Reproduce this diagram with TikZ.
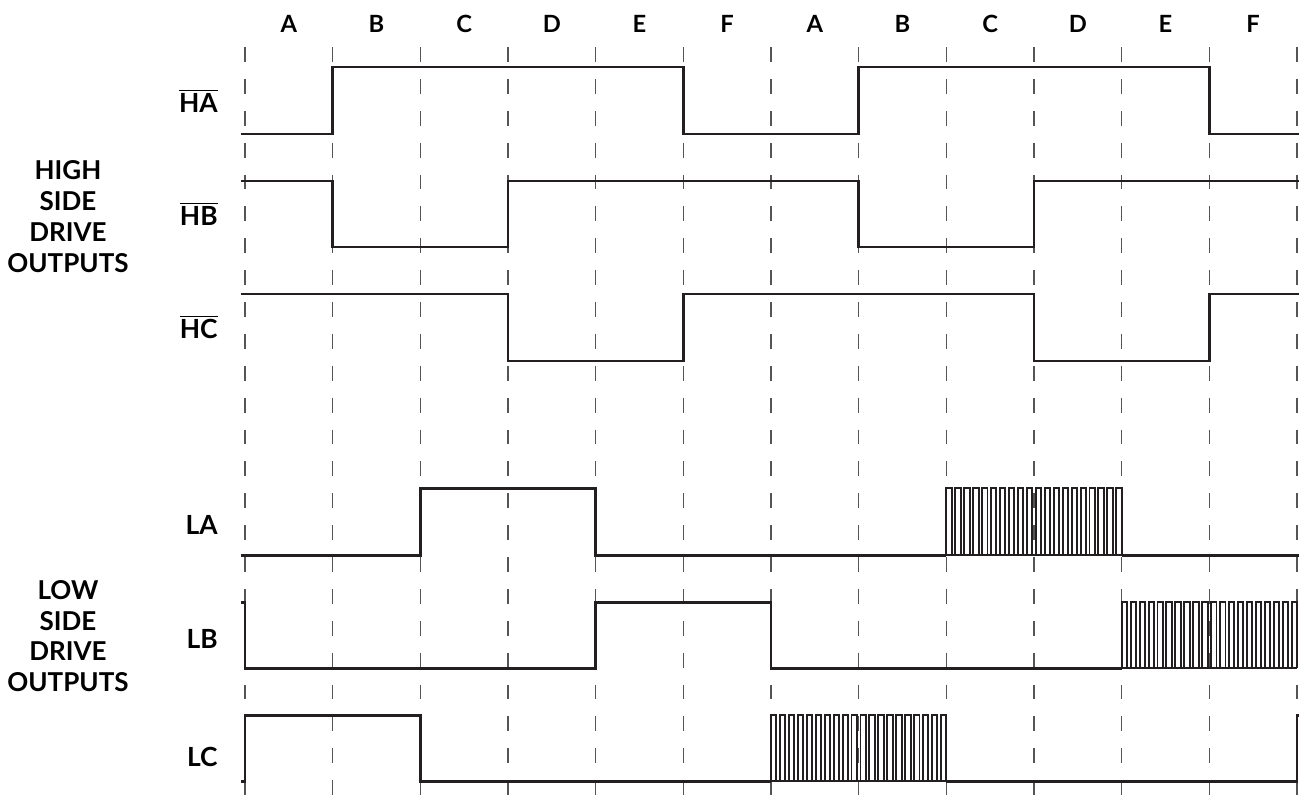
\documentclass[tikz,border=0pt]{standalone}
\usepackage{fontspec}
\setmainfont{Lato}
\usepackage{tikz}
\usetikzlibrary{positioning, calc}
\definecolor{inkdark}{HTML}{231F20}
\definecolor{gridgray}{HTML}{555555}
\tikzset{
    signal line/.style={draw=inkdark, line width=1.6pt, line join=miter},
    pwm line/.style={draw=inkdark, line width=1.1pt, line join=miter},
    grid line/.style={draw=gridgray, line width=0.8pt, dash pattern=on 8.5pt off 9.64pt},
    phase label/.style={font=\bfseries\fontsize{13.5}{15}\selectfont, anchor=base, inner sep=0pt},
    sig label/.style={font=\bfseries\fontsize{15}{17}\selectfont, anchor=base east, inner sep=0pt},
    group label/.style={font=\bfseries\fontsize{14.8}{17.6}\selectfont, align=center, inner sep=0pt},
}
% 20 pulses over two phases: start x, high y, low y
\newcommand{\pwm}[3]{
    \draw[pwm line] (#1,#3) -- ({#1+2},#3);
    \foreach \k in {0,...,19}
        \draw[pwm line] ({#1+\k*0.10204},#3) -- ({#1+\k*0.10204},#2)
            -- ({#1+\k*0.10204+0.06122},#2) -- ({#1+\k*0.10204+0.06122},#3);
}

\begin{document}
\begin{tikzpicture}[x=1.7534cm, y=-0.02cm]
    \useasboundingbox (-2.7946,0) rectangle (12.0224,795);

    \foreach \i in {0,...,12}
        \draw[grid line] (\i,47) -- (\i,795);

    \foreach \l [count=\i from 0] in {A,B,C,D,E,F,A,B,C,D,E,F}
        \node[phase label] (ph\i) at ({\i+0.5},32) {\l};

    \node[group label] (high) at (-2.019,216.5) {HIGH\\SIDE\\DRIVE\\OUTPUTS};
    \node[group label] (low) at (-2.019,636) {LOW\\SIDE\\DRIVE\\OUTPUTS};

    \node[sig label] (ha) at (-0.308,112) {$\overline{\mbox{HA}}$};
    \node[sig label] (hb) at (-0.308,225) {$\overline{\mbox{HB}}$};
    \node[sig label] (hc) at (-0.308,338) {$\overline{\mbox{HC}}$};
    \node[sig label] (la) at (-0.308,534) {LA};
    \node[sig label] (lb) at (-0.308,648) {LB};
    \node[sig label] (lc) at (-0.308,766) {LC};

    \draw[signal line] (-0.04,134) -| (1,67) -| (5,134) -| (7,67) -| (11,134) -- (12.03,134);
    \draw[signal line] (-0.04,181) -| (1,247) -| (3,181) -| (7,247) -| (9,181) -- (12.03,181);
    \draw[signal line] (-0.04,294) -| (3,361) -| (5,294) -| (9,361) -| (11,294) -- (12.03,294);

    \draw[signal line] (-0.04,555) -| (2,488) -| (4,555) -- (8,555);
    \pwm{8}{488}{555}
    \draw[signal line] (10,555) -- (12.03,555);

    \draw[signal line] (-0.04,602) -| (0,668) -| (4,602) -| (6,668) -- (10,668);
    \pwm{10}{602}{668}

    \draw[signal line] (-0.04,781) -| (0,715) -| (2,781) -- (6,781);
    \pwm{6}{715}{781}
    \draw[signal line] (8,781) -| (12,715) -- (12.03,715);
\end{tikzpicture}
\end{document}
